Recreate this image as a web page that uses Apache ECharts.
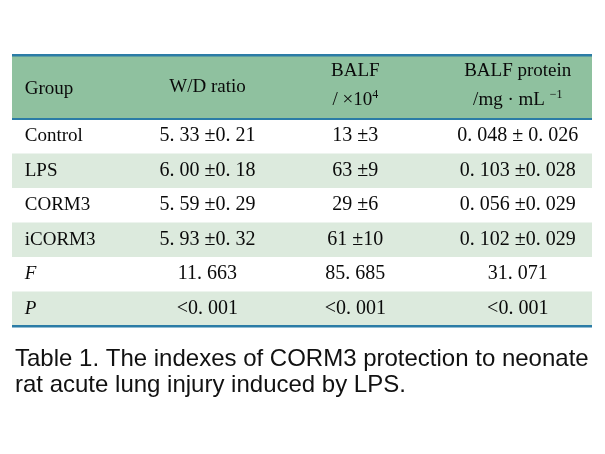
<!DOCTYPE html>
<html><head><meta charset="utf-8">
<script src="https://cdn.jsdelivr.net/npm/echarts@6/dist/echarts.min.js"></script>
<style>html,body{margin:0;padding:0;background:#fff}#c{width:605px;height:454px}</style>
</head><body><div id="c"></div>
<script>
// ---- data ----
const groups = ['Control', 'LPS', 'CORM3', 'iCORM3', 'F', 'P'];
const wdRatio = ['5. 33 ±0. 21', '6. 00 ±0. 18', '5. 59 ±0. 29', '5. 93 ±0. 32', '11. 663', '<0. 001'];
const balf = ['13 ±3', '63 ±9', '29 ±6', '61 ±10', '85. 685', '<0. 001'];
const balfProtein = ['0. 048 ± 0. 026', '0. 103 ±0. 028', '0. 056 ±0. 029', '0. 102 ±0. 029', '31. 071', '<0. 001'];
const caption = 'Table 1. The indexes of CORM3 protection to neonate\nrat acute lung injury induced by LPS.';

// ---- layout / style ----
const HEADER_H = 1.855;              // header height in row units
const TOTAL = HEADER_H + groups.length;
const colAnchor = [0.022, 0.337, 0.592, 0.872];
const HEAD_BG = '#8fc19f', ALT_BG = '#dceadd', LINE = '#2b7ca6', TXT = '#0a0a0a';
const FONT = '"Liberation Serif", "DejaVu Serif", serif';

const cols = [groups, wdRatio, balf, balfProtein];
const cellData = [];
for (let r = 0; r < groups.length; r++) for (let c = 0; c < cols.length; c++) cellData.push([c, r, cols[c][r]]);
const rowData = groups.map((g, i) => [i]);

const chart = echarts.init(document.getElementById('c'), null, {renderer: 'canvas'});
chart.setOption({
  animation: false,
  backgroundColor: '#fff',
  title: {
    text: caption, left: 10, top: 341,
    textStyle: {fontFamily: '"Liberation Sans", Arial, sans-serif', fontSize: 24, fontWeight: 'normal', color: '#111', lineHeight: 26}
  },
  grid: {left: 12, right: 13, top: 55, bottom: 128},
  xAxis: {type: 'value', min: 0, max: 1, show: false},
  yAxis: {type: 'value', min: 0, max: TOTAL, inverse: true, show: false},
  series: [
    { // row backgrounds + rules
      type: 'custom', silent: true, data: [[-1]].concat(rowData),
      renderItem(params, api) {
        const r = api.value(0);
        const y0 = r < 0 ? 0 : HEADER_H + r, y1 = r < 0 ? HEADER_H : HEADER_H + r + 1;
        const p0 = api.coord([0, y0]), p1 = api.coord([1, y1]);
        const children = [];
        const fill = r < 0 ? HEAD_BG : (r % 2 === 1 ? ALT_BG : null);
        if (fill) children.push({type: 'rect', shape: {x: p0[0], y: p0[1], width: p1[0] - p0[0], height: p1[1] - p0[1]}, style: {fill}});
        if (r < 0) {
          children.push({type: 'rect', shape: {x: p0[0], y: p0[1] - 1, width: p1[0] - p0[0], height: 2.5}, style: {fill: LINE}});
          children.push({type: 'rect', shape: {x: p0[0], y: p1[1] - 1, width: p1[0] - p0[0], height: 2}, style: {fill: LINE}});
        }
        if (r === groups.length - 1) children.push({type: 'rect', shape: {x: p0[0], y: p1[1] - 1, width: p1[0] - p0[0], height: 2.5}, style: {fill: LINE}});
        return {type: 'group', children};
      }
    },
    { // header texts
      type: 'custom', silent: true, data: [[0], [1], [2], [3]],
      renderItem(params, api) {
        const c = api.value(0);
        const x = colAnchor[c];
        const mk = (y, text, rich) => {
          const p = api.coord([x, y]);
          return {type: 'text', x: p[0], y: p[1], style: {text, fill: TXT, font: '19px ' + FONT, align: c === 0 ? 'left' : 'center', verticalAlign: 'middle', rich}};
        };
        const sup = {sup: {fontSize: 12, fontFamily: FONT, verticalAlign: 'top', padding: [0, 0, 10, 0], fill: TXT}, n: {fontSize: 19, fontFamily: FONT, fill: TXT}};
        if (c === 0) return mk(0.985, 'Group');
        if (c === 1) return mk(0.93, 'W/D ratio');
        if (c === 2) return {type: 'group', children: [mk(0.45, 'BALF'), mk(1.30, '{n|/ ×10}{sup|4}', sup)]};
        return {type: 'group', children: [mk(0.45, 'BALF protein'), mk(1.30, '{n|/mg · mL }{sup|−1}', sup)]};
      }
    },
    { // body cells
      type: 'custom', silent: true, data: cellData,
      renderItem(params, api) {
        const c = api.value(0), r = api.value(1);
        const text = cellData[params.dataIndex][2];
        const p = api.coord([colAnchor[c], HEADER_H + r + 0.5]);
        const italic = c === 0 && r >= 4;
        return {type: 'text', x: p[0], y: p[1], style: {text, fill: TXT, font: (italic ? 'italic ' : '') + (c === 0 ? '19px ' : '20px ') + FONT, align: c === 0 ? 'left' : 'center', verticalAlign: 'middle'}};
      }
    }
  ]
});
</script></body></html>
